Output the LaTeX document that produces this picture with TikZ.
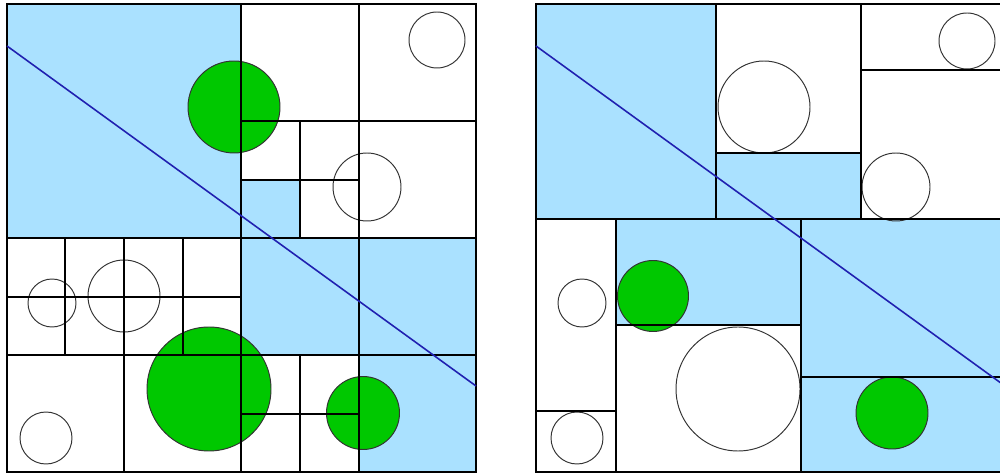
\documentclass[tikz,border=0pt]{standalone}
\usepackage{tikz}
\usepackage{xcolor}
\definecolor{hitblue}{RGB}{170,225,255}
\definecolor{hitgreen}{RGB}{0,200,0}
\definecolor{querycol}{RGB}{32,32,176}
\tikzset{
    cell/.style={draw=black, line width=0.75pt},
    hitcell/.style={fill=hitblue, draw=none},
    point/.style={draw=black!80, line width=0.55pt},
    hitpoint/.style={point, fill=hitgreen},
    query/.style={draw=querycol, line width=0.9pt}
}

\begin{document}
\begin{tikzpicture}[x=0.02cm, y=-0.02cm]
    \useasboundingbox (0,0) rectangle (1000,475);
    \clip (0,0) rectangle (1000,475);

    % Quadtree (left)
    \foreach \xa/\ya/\xb/\yb in {7/4/241/238, 241/180/300/238, 241/238/476/355, 359/355/476/472}
        \fill[hitcell] (\xa,\ya) rectangle (\xb,\yb);
    \foreach \cx/\cy/\r in {437/40/28, 367/187/34, 52/303/24, 124/296/36, 46/438/26}
        \draw[point] (\cx,\cy) circle (\r);
    \foreach \cx/\cy/\r in {234/107/46, 209/389/62, 363/413/36.5}
        \draw[hitpoint] (\cx,\cy) circle (\r);
    \draw[cell] (7,4) rectangle (476,472);
    \foreach \cx/\cy/\hx/\hy in {241/238/234/234, 359/121/117/117, 124/355/117/117,
                                 359/355/117/117, 65/297/58/58, 183/297/58/58,
                                 300/180/59/58, 300/414/59/58} {
        \draw[cell] (\cx,\cy-\hy) -- (\cx,\cy+\hy);
        \draw[cell] (\cx-\hx,\cy) -- (\cx+\hx,\cy);
    }
    \draw[query] (7,46) -- (476,386);

    % R-tree (right)
    \foreach \xa/\ya/\xb/\yb in {536/4/716/219, 716/153/861/219, 616/219/801/325, 801/219/1005/472}
        \fill[hitcell] (\xa,\ya) rectangle (\xb,\yb);
    \foreach \cx/\cy/\r in {764/107/46, 967/41/28, 896/187/34, 582/303/24, 577/438/26, 738/389/62}
        \draw[point] (\cx,\cy) circle (\r);
    \foreach \cx/\cy/\r in {653/296/35.5, 892/413/36}
        \draw[hitpoint] (\cx,\cy) circle (\r);
    \draw[cell] (536,4) rectangle (1005,472);
    \foreach \xa/\ya/\xb/\yb in {716/4/716/219, 861/4/861/219, 716/153/861/153,
                                 861/70/1005/70, 536/219/1005/219, 616/219/616/472,
                                 536/411/616/411, 801/219/801/472, 616/325/801/325,
                                 801/377/1005/377}
        \draw[cell] (\xa,\ya) -- (\xb,\yb);
    \draw[query] (536,46) -- (1005,386);
\end{tikzpicture}
\end{document}
